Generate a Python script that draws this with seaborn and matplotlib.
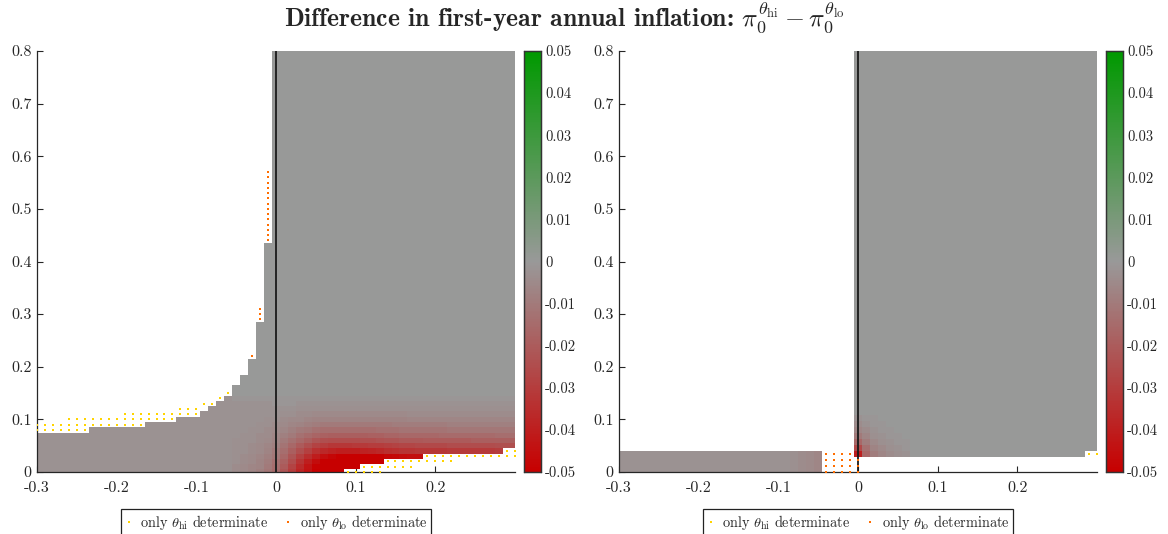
import numpy as np
import pandas as pd
import matplotlib
matplotlib.use("Agg")
import matplotlib.pyplot as plt
import seaborn as sns
from matplotlib.colors import LinearSegmentedColormap
from matplotlib.lines import Line2D

# ------------------------------------------------------------------ data
# grid of cell centres
x_grid = np.round(np.arange(-30, 31) * 0.01, 2)          # -0.30 ... 0.30
yL_grid = np.round(np.arange(0, 81) * 0.01, 4)           # left panel rows
yR_grid = np.linspace(0.0, 0.8, 71)                       # right panel rows
dyL = 0.01
dyR = 0.8 / 70

# ---- left panel: determinacy region
# for x = -0.30 ... -0.01 : highest determinate y
L_top_neg = [0.07, 0.07, 0.07, 0.07, 0.07, 0.07, 0.07,
             0.08, 0.08, 0.08, 0.08, 0.08, 0.08, 0.08,
             0.09, 0.09, 0.09, 0.09,
             0.10, 0.10, 0.10,
             0.11, 0.12, 0.13, 0.14, 0.16, 0.18, 0.21, 0.28, 0.43]
# for x = 0.00 ... 0.30 : lowest determinate y
L_bottom_pos = [0.00, 0.00, 0.00, 0.00, 0.00, 0.00, 0.00, 0.00, 0.00,
                0.01, 0.01,
                0.02, 0.02, 0.02,
                0.03, 0.03, 0.03, 0.03, 0.03,
                0.04, 0.04, 0.04, 0.04, 0.04, 0.04, 0.04, 0.04, 0.04, 0.04,
                0.05, 0.05]
L_base_neg = -0.002      # faint value in the far-left region

# inflation difference (x 1e-3, sign negative) for x = -0.05 ... 0.30, y = 0.00 ... 0.14
L_red_x0 = -0.05
L_red = [
    [4, 5, 6, 8, 11, 15, 22, 30, 38, 44, 50, 50, 50, 50, 50, 50, 50, 50, 50, 50, 50, 50, 50, 50, 50, 50, 50, 50, 50, 50, 50, 50, 50, 50, 50, 50],
    [4, 5, 6, 7, 10, 14, 20, 28, 36, 43, 49, 50, 50, 50, 50, 50, 50, 50, 50, 50, 50, 50, 50, 50, 50, 50, 50, 50, 50, 50, 50, 50, 50, 50, 50, 50],
    [3, 4, 5, 7, 9, 13, 18, 25, 33, 40, 46, 50, 50, 50, 50, 50, 50, 50, 50, 50, 50, 50, 50, 50, 50, 50, 50, 50, 50, 50, 50, 50, 50, 50, 50, 50],
    [3, 4, 5, 6, 8, 11, 16, 22, 29, 35, 41, 45, 48, 50, 50, 50, 50, 50, 50, 48, 47, 46, 45, 45, 45, 45, 45, 45, 45, 45, 45, 45, 45, 45, 45, 45],
    [3, 3, 4, 5, 7, 10, 14, 19, 24, 29, 34, 37, 39, 40, 40, 40, 39, 38, 37, 35, 34, 33, 33, 32, 32, 32, 32, 31, 31, 31, 31, 31, 31, 30, 30, 30],
    [3, 3, 4, 5, 6, 8, 12, 16, 20, 24, 28, 30, 32, 32, 32, 31, 31, 30, 30, 29, 28, 27, 27, 26, 26, 26, 26, 25, 25, 25, 25, 25, 25, 24, 24, 24],
    [3, 3, 3, 4, 5, 7, 10, 13, 16, 19, 22, 24, 25, 25, 25, 25, 24, 24, 23, 22, 22, 21, 21, 21, 20, 20, 20, 20, 20, 20, 19, 19, 19, 19, 19, 19],
    [2, 3, 3, 4, 4, 6, 8, 10, 13, 15, 17, 18, 19, 19, 19, 19, 19, 18, 18, 17, 17, 16, 16, 16, 16, 16, 15, 15, 15, 15, 15, 15, 15, 14, 14, 14],
    [2, 2, 3, 3, 4, 5, 6, 8, 10, 11, 13, 14, 14, 14, 14, 14, 14, 14, 13, 13, 13, 12, 12, 12, 12, 12, 12, 11, 11, 11, 11, 11, 11, 11, 11, 11],
    [2, 2, 2, 3, 3, 4, 5, 6, 7, 8, 9, 10, 10, 10, 10, 10, 10, 10, 10, 10, 9, 9, 9, 9, 9, 9, 9, 8, 8, 8, 8, 8, 8, 8, 8, 8],
    [2, 2, 2, 2, 3, 3, 4, 5, 5, 6, 7, 7, 7, 7, 7, 7, 7, 7, 7, 7, 7, 7, 6, 6, 6, 6, 6, 6, 6, 6, 6, 6, 6, 6, 6, 6],
    [2, 2, 2, 2, 2, 2, 3, 3, 4, 4, 5, 5, 5, 5, 5, 5, 5, 5, 5, 5, 5, 5, 4, 4, 4, 4, 4, 4, 4, 4, 4, 4, 4, 4, 4, 4],
    [2, 2, 2, 2, 2, 2, 2, 2, 3, 3, 3, 3, 3, 3, 3, 3, 3, 3, 3, 3, 3, 3, 3, 3, 3, 3, 3, 3, 3, 3, 3, 3, 3, 3, 3, 3],
    [2, 2, 2, 2, 2, 1, 1, 1, 2, 2, 2, 2, 2, 2, 2, 2, 2, 2, 2, 2, 2, 2, 2, 2, 2, 2, 2, 2, 2, 2, 2, 2, 2, 2, 2, 2],
    [1, 1, 1, 1, 1, 1, 1, 1, 1, 1, 1, 1, 1, 1, 1, 1, 1, 1, 1, 1, 1, 1, 1, 1, 1, 1, 1, 1, 1, 1, 1, 1, 1, 1, 1, 1],
]

# dots: (x, y_from, y_to)
L_hi_only = [(-0.30, 0.08, 0.09), (-0.29, 0.08, 0.09), (-0.28, 0.08, 0.09), (-0.27, 0.08, 0.09),
             (-0.26, 0.08, 0.10), (-0.25, 0.08, 0.10), (-0.24, 0.08, 0.10),
             (-0.23, 0.09, 0.10), (-0.22, 0.09, 0.10), (-0.21, 0.09, 0.10), (-0.20, 0.09, 0.10),
             (-0.19, 0.09, 0.11), (-0.18, 0.09, 0.11), (-0.17, 0.09, 0.11),
             (-0.16, 0.10, 0.11), (-0.15, 0.10, 0.11), (-0.14, 0.10, 0.11), (-0.13, 0.10, 0.11),
             (-0.12, 0.11, 0.12), (-0.11, 0.11, 0.12), (-0.10, 0.11, 0.12),
             (-0.09, 0.13, 0.13), (-0.08, 0.13, 0.13), (-0.07, 0.14, 0.14), (-0.06, 0.15, 0.15),
             (0.09, 0.00, 0.00), (0.10, 0.00, 0.00),
             (0.11, 0.00, 0.01), (0.12, 0.00, 0.01), (0.13, 0.00, 0.01),
             (0.14, 0.01, 0.02), (0.15, 0.01, 0.02), (0.16, 0.01, 0.02), (0.17, 0.01, 0.02),
             (0.18, 0.02, 0.02),
             (0.19, 0.02, 0.03), (0.20, 0.02, 0.03), (0.21, 0.02, 0.03), (0.22, 0.02, 0.03),
             (0.23, 0.03, 0.03), (0.24, 0.03, 0.03), (0.25, 0.03, 0.03), (0.26, 0.03, 0.03),
             (0.27, 0.03, 0.03), (0.28, 0.03, 0.03),
             (0.29, 0.03, 0.04), (0.30, 0.03, 0.04)]
L_lo_only = [(-0.03, 0.22, 0.22), (-0.02, 0.29, 0.31), (-0.01, 0.44, 0.57)]

# ---- right panel
# for x = -0.30 ... -0.01 : highest determinate row (None = none)
R_top_neg = [3, 3, 3, 3, 3, 3, 3, 3, 3, 3, 3, 3, 3, 3, 3, 3, 3, 3, 3, 3, 3, 3, 3, 3, 3, 3,
             None, None, None, None]
# for x = 0.00 ... 0.30 : lowest determinate row
R_bottom_pos = [3, 3, 3, 3, 3, 3, 3, 3, 3, 3, 3, 3, 3, 3, 3, 3, 3, 3, 3, 3, 3, 3, 3, 3, 3, 3, 3, 3, 3,
                4, 4]
R_base_neg = -0.002
R_neg_tint = {-0.08: -0.003, -0.07: -0.004, -0.06: -0.005, -0.05: -0.006}
# x = 0.00 ... 0.06 , rows 3 ... 9  (x 1e-3, negative)
R_red_row0 = 3
R_red = [
    [40, 16, 9, 6, 4, 3, 2],
    [26, 13, 7, 5, 3, 2, 1],
    [16, 9, 5, 3, 2, 1, 1],
    [10, 6, 3, 2, 1, 1, 0],
    [6, 4, 2, 1, 1, 0, 0],
    [4, 2, 1, 1, 0, 0, 0],
    [2, 1, 1, 0, 0, 0, 0],
]
# dots: (x, row_from, row_to)
R_hi_only = [(0.29, 3, 3), (0.30, 3, 3)]
R_lo_only = [(-0.04, 0, 3), (-0.03, 0, 3), (-0.02, 0, 3), (-0.01, 0, 3), (0.00, 0, 2)]

cbar_ticks = [-0.05, -0.04, -0.03, -0.02, -0.01, 0.0, 0.01, 0.02, 0.03, 0.04, 0.05]
cbar_labels = ["-0.05", "-0.04", "-0.03", "-0.02", "-0.01", "0", "0.01", "0.02", "0.03", "0.04", "0.05"]
x_ticks = [-0.3, -0.2, -0.1, 0.0, 0.1, 0.2]
x_labels = ["-0.3", "-0.2", "-0.1", "0", "0.1", "0.2"]
y_ticks = [0.0, 0.1, 0.2, 0.3, 0.4, 0.5, 0.6, 0.7, 0.8]
y_labels = ["0", "0.1", "0.2", "0.3", "0.4", "0.5", "0.6", "0.7", "0.8"]

HI_COLOR = "#FFD400"
LO_COLOR = "#FF6E00"

# ------------------------------------------------------------------ build fields
nx = len(x_grid)
i0 = int(np.argmin(np.abs(x_grid - 0.0)))

ZL = np.full((len(yL_grid), nx), np.nan)
for i, xv in enumerate(x_grid):
    for j, yv in enumerate(yL_grid):
        if i < i0:
            if yv > L_top_neg[i] + 1e-9:
                continue
        else:
            if yv < L_bottom_pos[i - i0] - 1e-9:
                continue
        c = int(round((xv - L_red_x0) / 0.01))
        if 0 <= c < len(L_red[0]) and j < len(L_red):
            val = -L_red[j][c] / 1000.0
        elif i < i0 and c < 0:
            val = L_base_neg
        else:
            val = 0.0
        ZL[j, i] = val

ZR = np.full((len(yR_grid), nx), np.nan)
for i, xv in enumerate(x_grid):
    for j in range(len(yR_grid)):
        if i < i0:
            top = R_top_neg[i]
            if top is None or j > top:
                continue
            val = R_neg_tint.get(round(float(xv), 2), R_base_neg)
        else:
            if j < R_bottom_pos[i - i0]:
                continue
            c = i - i0
            r = j - R_red_row0
            if 0 <= r < len(R_red) and c < len(R_red[0]):
                val = -R_red[r][c] / 1000.0
            else:
                val = 0.0
        ZR[j, i] = val


def xpos(v):
    return (np.asarray(v, dtype=float) - x_grid[0]) / 0.01 + 0.5


def ypos(v, dy):
    return np.asarray(v, dtype=float) / dy + 0.5


def dots_left(spec):
    xs, ys = [], []
    for xv, a, b in spec:
        for yv in yL_grid:
            if a - 1e-9 <= yv <= b + 1e-9:
                xs.append(xpos(xv)); ys.append(ypos(yv, dyL))
    return pd.DataFrame({"x": xs, "y": ys})


def dots_right(spec):
    xs, ys = [], []
    for xv, a, b in spec:
        for r in range(a, b + 1):
            xs.append(xpos(xv)); ys.append(ypos(yR_grid[r], dyR))
    return pd.DataFrame({"x": xs, "y": ys})


# ------------------------------------------------------------------ style
sns.set_style("white")
plt.rcParams["font.family"] = ["cmr10", "DejaVu Serif"]
plt.rcParams["mathtext.fontset"] = "cm"
plt.rcParams["axes.unicode_minus"] = False
plt.rcParams["axes.formatter.use_mathtext"] = True

cmap = LinearSegmentedColormap.from_list(
    "rg", [(0.78, 0.0, 0.0), (0.6, 0.6, 0.6), (0.0, 0.6, 0.0)])

W, H = 1168, 534
fig = plt.figure(figsize=(W / 100, H / 100), dpi=100)


def frac(x0, y0, x1, y1):
    return [x0 / W, 1 - y1 / H, (x1 - x0) / W, (y1 - y0) / H]


panels = [
    dict(ax=frac(37, 51, 515, 472), cax=frac(524, 51, 541, 472), Z=ZL, dy=dyL,
         hi=dots_left(L_hi_only), lo=dots_left(L_lo_only)),
    dict(ax=frac(619, 51, 1097, 472), cax=frac(1106, 51, 1123, 472), Z=ZR, dy=dyR,
         hi=dots_right(R_hi_only), lo=dots_right(R_lo_only)),
]

for p in panels:
    ax = fig.add_axes(p["ax"])
    cax = fig.add_axes(p["cax"])
    sns.heatmap(pd.DataFrame(p["Z"]), ax=ax, cbar_ax=cax, cmap=cmap,
                vmin=-0.05, vmax=0.05, xticklabels=False, yticklabels=False,
                linewidths=0, rasterized=True)
    ax.set_xlim(xpos(-0.3), xpos(0.3))
    ax.set_ylim(ypos(0.0, p["dy"]), ypos(0.8, p["dy"]))
    ax.axvline(xpos(0.0), color="#1a1a1a", lw=1.3, zorder=3)
    sns.scatterplot(data=p["hi"], x="x", y="y", ax=ax, color=HI_COLOR, marker="s",
                    s=4, linewidth=0, zorder=4, legend=False)
    sns.scatterplot(data=p["lo"], x="x", y="y", ax=ax, color=LO_COLOR, marker="s",
                    s=4, linewidth=0, zorder=4, legend=False)
    ax.set_xlabel(""); ax.set_ylabel("")
    ax.set_xticks(xpos(x_ticks))
    ax.set_xticklabels(x_labels, rotation=0, fontsize=11.5)
    ax.set_yticks(ypos(y_ticks, p["dy"]))
    ax.set_yticklabels(y_labels, rotation=0, fontsize=11.5)
    ax.tick_params(axis="both", direction="in", length=4, width=0.8, color="#262626",
                   bottom=True, left=True, top=False, right=False)
    ax.tick_params(axis="x", pad=7)
    ax.tick_params(axis="y", pad=4)
    for side in ["left", "bottom"]:
        ax.spines[side].set_visible(True)
        ax.spines[side].set_color("#262626")
        ax.spines[side].set_linewidth(0.9)
    for side in ["top", "right"]:
        ax.spines[side].set_visible(False)
    ax.set_facecolor("white")

    cax.set_yticks(cbar_ticks)
    cax.set_yticklabels(cbar_labels, fontsize=10.5)
    cax.tick_params(axis="y", direction="in", length=3, width=0.7, right=True, left=False,
                    pad=3, color="#333333")
    for s in cax.spines.values():
        s.set_visible(True)
        s.set_color("#333333")
        s.set_linewidth(0.9)

    handles = [Line2D([], [], linestyle="none", marker="s", markersize=2.0,
                      markerfacecolor=HI_COLOR, markeredgewidth=0),
               Line2D([], [], linestyle="none", marker="s", markersize=2.0,
                      markerfacecolor=LO_COLOR, markeredgewidth=0)]
    leg = ax.legend(handles, [r"only $\theta_{\rm hi}$ determinate", r"only $\theta_{\rm lo}$ determinate"],
                    loc="upper center", bbox_to_anchor=(0.5, -0.088), ncol=2, frameon=True,
                    fancybox=False, framealpha=1, edgecolor="#222222", fontsize=10.3,
                    handlelength=0.6, handletextpad=0.5, columnspacing=1.1,
                    borderpad=0.25, borderaxespad=0)
    leg.get_frame().set_linewidth(0.9)

fig.text(564 / W, 1 - 18 / H,
         r"Difference in first-year annual inflation: $\pi_0^{\theta_{\rm hi}} - \pi_0^{\theta_{\rm lo}}$",
         ha="center", va="center", fontsize=18.5, fontfamily=["cmb10", "DejaVu Serif"])

fig.savefig("out.png", dpi=100, facecolor="white")
